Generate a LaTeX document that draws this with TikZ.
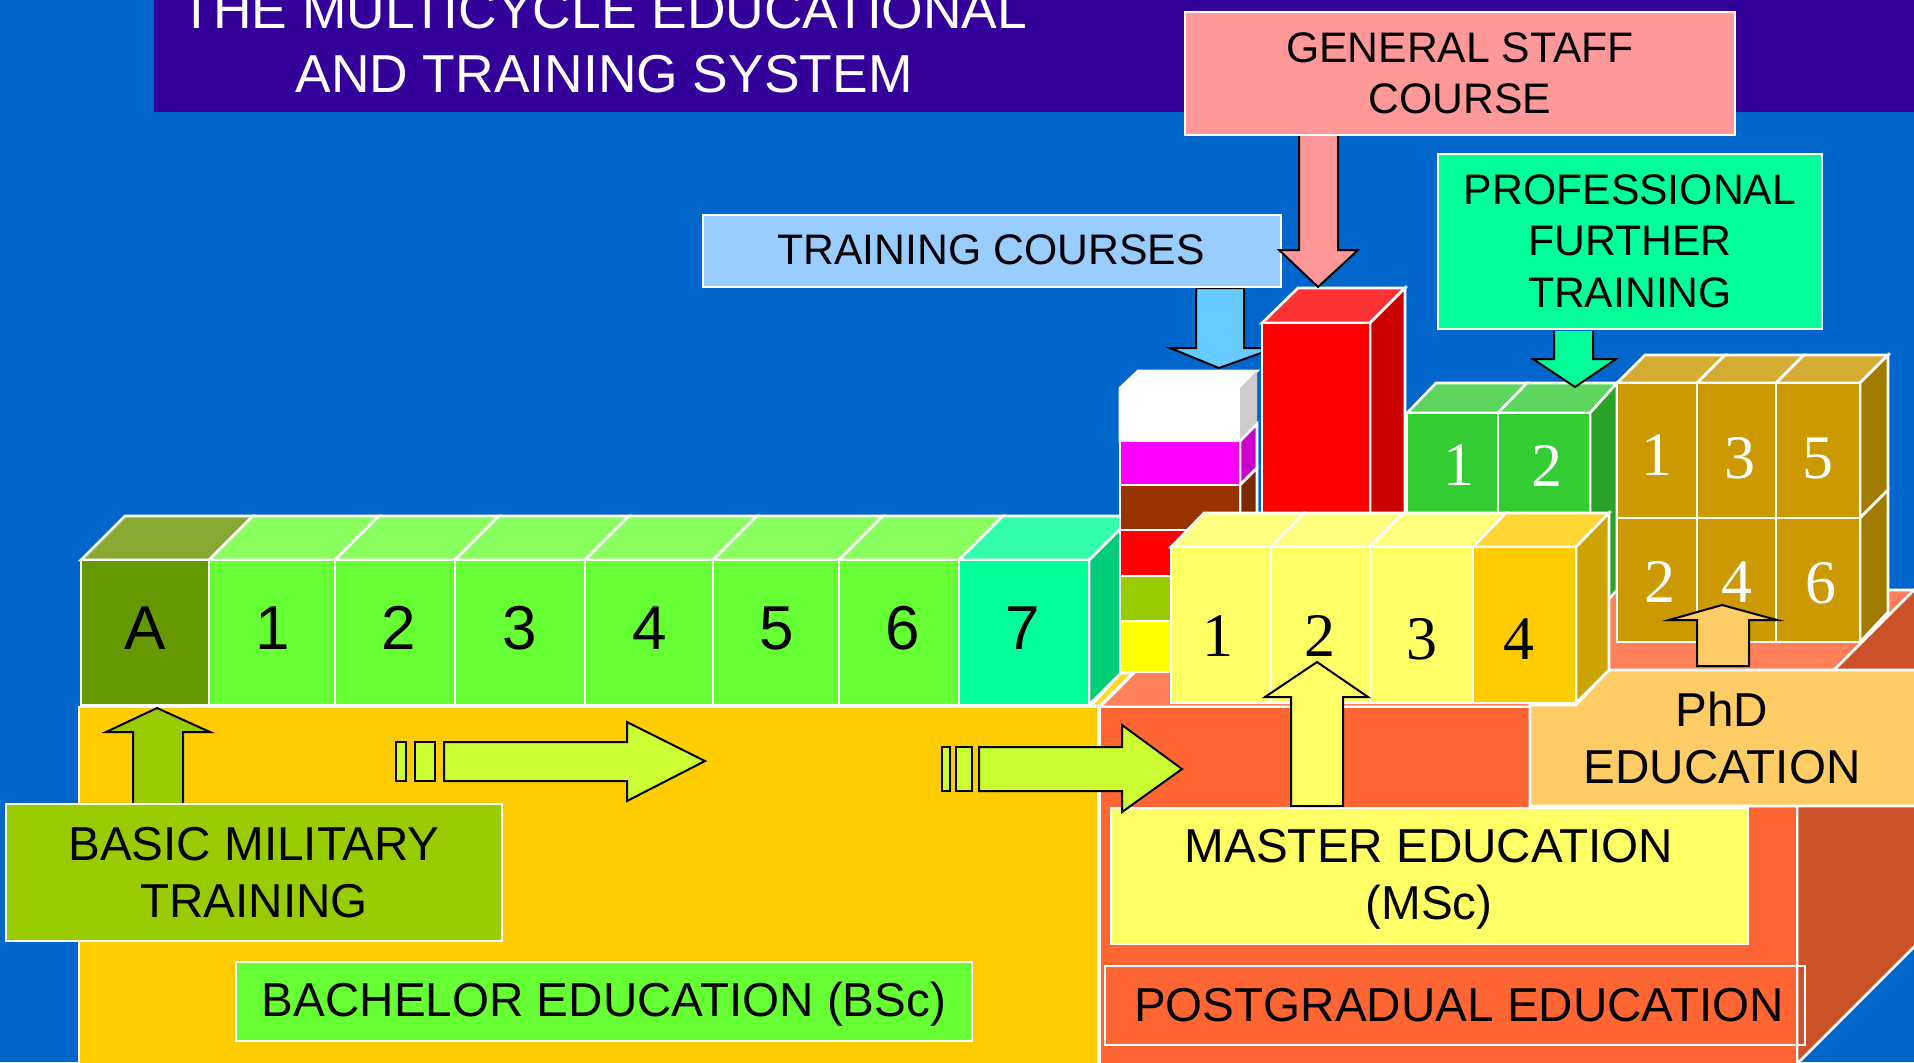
\documentclass[tikz,border=0pt]{standalone}
\usepackage{fontspec}
\setmainfont{Liberation Sans}
\newfontfamily\numfont{Liberation Serif}
\definecolor{bgblue}{HTML}{0066CC}
\definecolor{banner}{HTML}{330099}
\definecolor{pgfront}{HTML}{FF6633}
\definecolor{pgtop}{HTML}{FF8059}
\definecolor{pgside}{HTML}{CC5229}
\definecolor{gold}{HTML}{FFCC00}
\definecolor{goldtop}{HTML}{FFD633}
\definecolor{goldside}{HTML}{CCA300}
\definecolor{lime}{HTML}{66FF33}
\definecolor{limetop}{HTML}{88FF5C}
\definecolor{olive}{HTML}{669900}
\definecolor{olivetop}{HTML}{88AA33}
\definecolor{mint}{HTML}{00FF99}
\definecolor{minttop}{HTML}{33FFAA}
\definecolor{mintside}{HTML}{00CC7A}
\definecolor{leaf}{HTML}{33CC33}
\definecolor{leaftop}{HTML}{5CD65C}
\definecolor{leafside}{HTML}{29A329}
\definecolor{ochre}{HTML}{CC9900}
\definecolor{ochretop}{HTML}{D6AD33}
\definecolor{ochreside}{HTML}{A37A00}
\definecolor{pale}{HTML}{FFFF66}
\definecolor{paletop}{HTML}{FFFF80}
\definecolor{basic}{HTML}{99CC00}
\definecolor{pink}{HTML}{FF9999}
\definecolor{sky}{HTML}{99CCFF}
\definecolor{azure}{HTML}{66CCFF}
\definecolor{peach}{HTML}{FFCC66}
\definecolor{acid}{HTML}{CCFF33}
\definecolor{purewhite}{HTML}{FFFFFF}
\definecolor{stackgrey}{HTML}{CCCCCC}
\definecolor{stackpink}{HTML}{FF00FF}
\definecolor{stackpinkside}{HTML}{CC00CC}
\definecolor{stackbrown}{HTML}{993300}
\definecolor{stackbrownside}{HTML}{7A2900}
\definecolor{stackred}{HTML}{FF0000}
\definecolor{stackyellow}{HTML}{FFFF00}
\definecolor{columntop}{HTML}{FF3333}
\definecolor{columnside}{HTML}{CC0000}
\tikzset{
  cell/.style={draw=white, line width=1.3pt, line join=miter},
  blockarrow/.style={draw=black, line width=1pt, line join=miter},
  caption/.style={inner sep=0pt, align=center, font=\fontsize{23.8}{28.5}\selectfont},
  smallcaption/.style={inner sep=0pt, align=center, font=\fontsize{21.35}{25.7}\selectfont},
  sansdigit/.style={inner sep=0pt, font=\fontsize{31}{31}\selectfont},
  serifdigit/.style={inner sep=0pt, font=\numfont\fontsize{31}{31}\selectfont},
}
\begin{document}
\begin{tikzpicture}[x=0.5pt, y=-0.5pt]
\useasboundingbox (0,0) rectangle (1914,1062);
\clip (0,0) rectangle (1914,1062);
\fill[bgblue] (0,0) rectangle (1914,1062);
% title band
\fill[banner] (154,0) rectangle (1914,112);
\node[text=white, inner sep=0pt, align=center, font=\fontsize{26.7}{32}\selectfont] (title) at (604,42) {THE MULTICYCLE EDUCATIONAL\\AND TRAINING SYSTEM};

% postgradual block
\draw[cell, fill=pgtop] (1100,707) -- (1217,590) -- (1930,590) -- (1797,707) -- cycle;
\draw[cell, fill=pgside] (1797,707) -- (1914,590) -- (1930,590) -- (1930,931) -- (1797,1064) -- cycle;
\draw[cell, fill=pgfront] (1100,707) rectangle (1797,1070);

% bachelor block
\draw[cell, fill=goldtop] (1091,706) -- (1100,706) -- (1133,673) -- (1120,673) -- cycle;
\draw[cell, fill=gold] (79,707) rectangle (1098,1070);

% semester row
\draw[cell, fill=mintside] (1089,560) -- (1133,516) -- (1133,661) -- (1089,705) -- cycle;
\draw[cell, fill=olivetop] (81,560) -- (125,516) -- (253,516) -- (209,560) -- cycle;
\draw[cell, fill=limetop] (209,560) -- (253,516) -- (379,516) -- (335,560) -- cycle;
\draw[cell, fill=limetop] (335,560) -- (379,516) -- (499,516) -- (455,560) -- cycle;
\draw[cell, fill=limetop] (455,560) -- (499,516) -- (629,516) -- (585,560) -- cycle;
\draw[cell, fill=limetop] (585,560) -- (629,516) -- (757,516) -- (713,560) -- cycle;
\draw[cell, fill=limetop] (713,560) -- (757,516) -- (883,516) -- (839,560) -- cycle;
\draw[cell, fill=limetop] (839,560) -- (883,516) -- (1003,516) -- (959,560) -- cycle;
\draw[cell, fill=minttop] (959,560) -- (1003,516) -- (1133,516) -- (1089,560) -- cycle;
\draw[cell, fill=olive] (81,560) rectangle (209,705);
\draw[cell, fill=lime] (209,560) rectangle (335,705);
\draw[cell, fill=lime] (335,560) rectangle (455,705);
\draw[cell, fill=lime] (455,560) rectangle (585,705);
\draw[cell, fill=lime] (585,560) rectangle (713,705);
\draw[cell, fill=lime] (713,560) rectangle (839,705);
\draw[cell, fill=lime] (839,560) rectangle (959,705);
\draw[cell, fill=mint] (959,560) rectangle (1089,705);
\node[sansdigit] (semA) at (145,628) {A};
\node[sansdigit] (sem1) at (273,628) {1};
\node[sansdigit] (sem2) at (399,628) {2};
\node[sansdigit] (sem3) at (520,628) {3};
\node[sansdigit] (sem4) at (650,628) {4};
\node[sansdigit] (sem5) at (777,628) {5};
\node[sansdigit] (sem6) at (903,628) {6};
\node[sansdigit] (sem7) at (1023,628) {7};

% training courses stack
\draw[blockarrow, fill=azure] (1196,288) -- (1244,288) -- (1244,348) -- (1275,348) -- (1219,368) -- (1170,348) -- (1196,348) -- cycle;
\draw[cell, fill=purewhite] (1120,388) -- (1138,371) -- (1257,371) -- (1240,388) -- (1240,441) -- (1120,441) -- cycle;
\fill[stackgrey] (1240,388) -- (1257,371) -- (1257,424) -- (1240,441) -- cycle;
\draw[cell, fill=stackpinkside] (1240,441) -- (1257,424) -- (1257,468) -- (1240,485) -- cycle;
\draw[cell, fill=stackbrownside] (1240,485) -- (1257,468) -- (1257,672) -- (1240,672) -- cycle;
\draw[cell, fill=stackpink] (1120,441) rectangle (1240,485);
\draw[cell, fill=stackbrown] (1120,485) rectangle (1240,530);
\draw[cell, fill=stackred] (1120,530) rectangle (1240,576);
\draw[cell, fill=basic] (1120,576) rectangle (1240,621);
\draw[cell, fill=stackyellow] (1120,621) rectangle (1240,672);

% general staff column
\draw[cell, fill=columntop] (1262,323) -- (1298,288) -- (1405,288) -- (1370,323) -- cycle;
\draw[cell, fill=columnside] (1370,323) -- (1405,288) -- (1405,600) -- (1370,640) -- cycle;
\draw[cell, fill=stackred] (1262,323) rectangle (1370,640);

% professional further training block
\draw[cell, fill=leaftop] (1407,413) -- (1436,383) -- (1527,383) -- (1498,413) -- cycle;
\draw[cell, fill=leaftop] (1498,413) -- (1527,383) -- (1617,383) -- (1590,413) -- cycle;
\draw[cell, fill=leafside] (1590,413) -- (1617,383) -- (1617,590) -- (1590,620) -- cycle;
\draw[cell, fill=leaf] (1407,413) rectangle (1498,620);
\draw[cell, fill=leaf] (1498,413) rectangle (1590,620);
\node[serifdigit, text=white] (pro1) at (1459,465) {1};
\node[serifdigit, text=white] (pro2) at (1547,466) {2};

% phd block
\draw[cell, fill=ochretop] (1617,383) -- (1645,355) -- (1725,355) -- (1697,383) -- cycle;
\draw[cell, fill=ochretop] (1697,383) -- (1725,355) -- (1804,355) -- (1776,383) -- cycle;
\draw[cell, fill=ochretop] (1776,383) -- (1804,355) -- (1888,355) -- (1860,383) -- cycle;
\draw[cell, fill=ochreside] (1860,383) -- (1888,355) -- (1888,490) -- (1860,518) -- cycle;
\draw[cell, fill=ochreside] (1860,518) -- (1888,490) -- (1888,612) -- (1860,642) -- cycle;
\draw[cell, fill=ochre] (1617,383) rectangle (1697,518);
\draw[cell, fill=ochre] (1697,383) rectangle (1776,518);
\draw[cell, fill=ochre] (1776,383) rectangle (1860,518);
\draw[cell, fill=ochre] (1617,518) rectangle (1697,642);
\draw[cell, fill=ochre] (1697,518) rectangle (1776,642);
\draw[cell, fill=ochre] (1776,518) rectangle (1860,642);
\node[serifdigit, text=white] (phd1) at (1657,455) {1};
\node[serifdigit, text=white] (phd3) at (1740,458) {3};
\node[serifdigit, text=white] (phd5) at (1818,458) {5};
\node[serifdigit, text=white] (phd2) at (1660,582) {2};
\node[serifdigit, text=white] (phd4) at (1737,582) {4};
\node[serifdigit, text=white] (phd6) at (1821,583) {6};

% phd label
\draw[cell, fill=peach] (1530,806) -- (1530,705) -- (1576,705) -- (1609,670) -- (1930,670) -- (1930,806) -- cycle;
\node[caption] (phdlabel) at (1722,738) {PhD\\EDUCATION};

% master row
\draw[cell, fill=paletop] (1171,547) -- (1204,513) -- (1304,513) -- (1271,547) -- cycle;
\draw[cell, fill=paletop] (1271,547) -- (1304,513) -- (1403,513) -- (1370,547) -- cycle;
\draw[cell, fill=paletop] (1370,547) -- (1403,513) -- (1506,513) -- (1473,547) -- cycle;
\draw[cell, fill=goldtop] (1473,547) -- (1506,513) -- (1609,513) -- (1576,547) -- cycle;
\draw[cell, fill=goldside] (1576,547) -- (1609,513) -- (1609,670) -- (1576,703) -- cycle;
\draw[cell, fill=pale] (1171,547) rectangle (1271,703);
\draw[cell, fill=pale] (1271,547) rectangle (1370,703);
\draw[cell, fill=pale] (1370,547) rectangle (1473,703);
\draw[cell, fill=gold] (1473,547) rectangle (1576,703);
\node[serifdigit] (msc1) at (1218,636) {1};
\node[serifdigit] (msc2) at (1320,636) {2};
\node[serifdigit] (msc3) at (1422,639) {3};
\node[serifdigit] (msc4) at (1519,639) {4};

% label boxes
\draw[cell, fill=pink] (1185,12) rectangle (1735,135);
\node[smallcaption] (staff) at (1460,73) {GENERAL STAFF\\COURSE};
\draw[cell, fill=sky] (703,215) rectangle (1281,287);
\node[smallcaption] (courses) at (991,250) {TRAINING COURSES};
\draw[cell, fill=mint] (1438,154) rectangle (1822,329);
\node[smallcaption] (further) at (1630,241) {PROFESSIONAL\\FURTHER\\TRAINING};
\draw[cell, fill=pale] (1111,808) rectangle (1748,944);
\node[caption] (master) at (1429,879) {MASTER EDUCATION\\(MSc)};
\draw[draw=white, line width=0.8pt] (1105,966) rectangle (1805,1045);
\node[caption] (postgrad) at (1459,1005) {POSTGRADUAL EDUCATION};
\draw[cell, fill=lime] (236,962) rectangle (972,1041);
\node[caption] (bachelor) at (604,1004) {BACHELOR EDUCATION (BSc)};

% arrows
\draw[blockarrow, fill=basic] (133,804) -- (133,732) -- (106,732) -- (157,708) -- (210,732) -- (183,732) -- (183,804) -- cycle;
\draw[cell, fill=basic] (6,804) rectangle (502,941);
\node[caption] (military) at (254,873) {BASIC MILITARY\\TRAINING};

\draw[blockarrow, fill=pink] (1299,136) -- (1299,250) -- (1279,250) -- (1318,287) -- (1358,250) -- (1338,250) -- (1338,136);
\draw[blockarrow, fill=mint] (1554,331) -- (1554,359) -- (1533,359) -- (1575,387) -- (1616,359) -- (1593,359) -- (1593,331);
\draw[blockarrow, fill=peach] (1697,666) -- (1697,620) -- (1669,620) -- (1722,605) -- (1777,620) -- (1749,620) -- (1749,666) -- cycle;
\draw[blockarrow, fill=pale] (1291,806) -- (1291,697) -- (1265,697) -- (1317,662) -- (1368,697) -- (1343,697) -- (1343,806) -- cycle;

\draw[blockarrow, fill=acid] (396,742) rectangle (406,781);
\draw[blockarrow, fill=acid] (415,742) rectangle (435,781);
\draw[blockarrow, fill=acid] (444,742) -- (627,742) -- (627,722) -- (705,761) -- (627,801) -- (627,781) -- (444,781) -- cycle;
\draw[blockarrow, fill=acid] (942,747) rectangle (950,791);
\draw[blockarrow, fill=acid] (956,747) rectangle (972,791);
\draw[blockarrow, fill=acid] (979,747) -- (1122,747) -- (1122,725) -- (1182,769) -- (1122,812) -- (1122,791) -- (979,791) -- cycle;
\end{tikzpicture}
\end{document}
